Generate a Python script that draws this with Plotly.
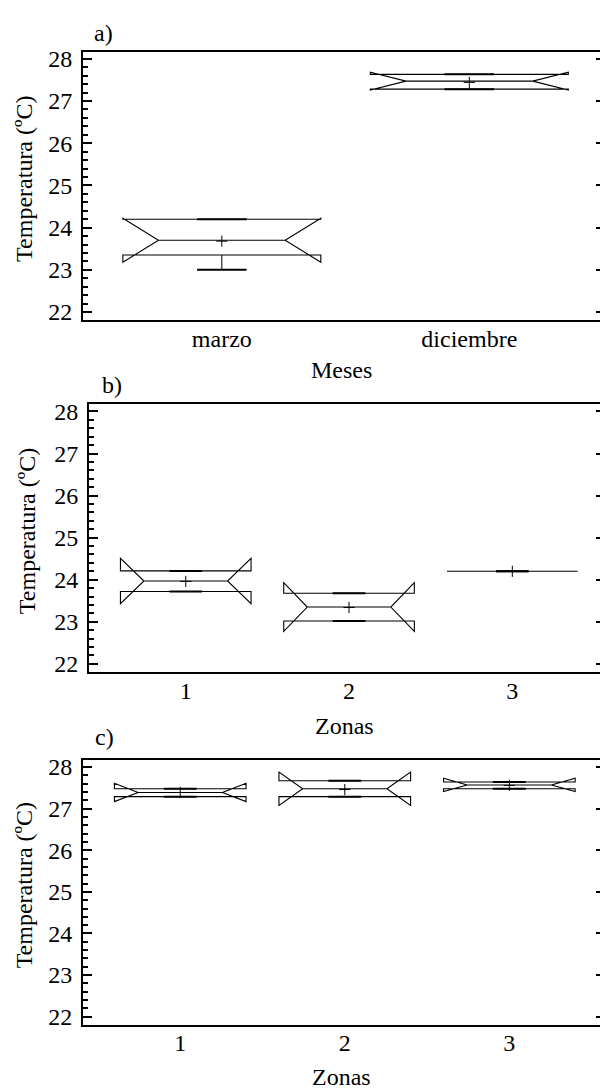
import plotly.graph_objects as go

# ---- data: temperature summaries (ºC) ----
meses = ["marzo", "diciembre"]
meses_q1 = [23.35, 27.28]
meses_med = [23.70, 27.47]
meses_q3 = [24.20, 27.63]
meses_low = [23.00, 27.28]
meses_high = [24.20, 27.63]
meses_mean = [23.68, 27.44]
meses_notch = [0.52, 0.21]

zonas_b = ["1", "2", "3"]
zb_q1 = [23.72, 23.02, 24.20]
zb_med = [23.97, 23.35, 24.20]
zb_q3 = [24.21, 23.68, 24.20]
zb_low = [23.72, 23.02, 24.20]
zb_high = [24.21, 23.68, 24.20]
zb_mean = [23.96, 23.34, 24.20]
zb_notch = [0.54, 0.58, 0.0]

zonas_c = ["1", "2", "3"]
zc_q1 = [27.29, 27.29, 27.48]
zc_med = [27.39, 27.48, 27.57]
zc_q3 = [27.48, 27.67, 27.64]
zc_low = [27.29, 27.29, 27.48]
zc_high = [27.48, 27.67, 27.64]
zc_mean = [27.39, 27.46, 27.56]
zc_notch = [0.22, 0.40, 0.16]

y_ticks = [22, 23, 24, 25, 26, 27, 28]
y_title = "Temperatura (ºC)"

# ---- layout geometry (pixels) ----
W, H = 600, 1092
FONT = "Liberation Serif, Times New Roman, DejaVu Serif, serif"
BOX_W = 0.8
WHISK = 0.25
NOTCH_W = 0.18
Y_RANGE = [21.81, 28.17]

panels = [
    dict(tag="a)", cats=meses, q1=meses_q1, med=meses_med, q3=meses_q3,
         low=meses_low, high=meses_high, mean=meses_mean, notch=meses_notch,
         xtitle="Meses", left=83, top=47, bottom=318, xr=[-0.561, 1.528],
         tag_xy=(92, 31), ytitle_x=24, xtitle_base=376),
    dict(tag="b)", cats=zonas_b, q1=zb_q1, med=zb_med, q3=zb_q3,
         low=zb_low, high=zb_high, mean=zb_mean, notch=zb_notch,
         xtitle="Zonas", left=89, top=403, bottom=673, xr=[-0.5925, 2.537],
         tag_xy=(100, 387), ytitle_x=27, xtitle_base=736),
    dict(tag="c)", cats=zonas_c, q1=zc_q1, med=zc_med, q3=zc_q3,
         low=zc_low, high=zc_high, mean=zc_mean, notch=zc_notch,
         xtitle="Zonas", left=83, top=762, bottom=1029, xr=[-0.591, 2.551],
         tag_xy=(93, 742), ytitle_x=24, xtitle_base=1090),
]

fig = go.Figure()
annotations = []
layout_axes = {}


def px_x(v):
    return v / W


def px_y(v):
    return 1 - v / H


for i, p in enumerate(panels):
    n = i + 1
    xa = "x" if n == 1 else f"x{n}"
    ya = "y" if n == 1 else f"y{n}"
    yr = f"y{n + 3}"
    pos = list(range(len(p["cats"])))

    # notched boxes (whiskers drawn separately below)
    fig.add_trace(go.Box(
        x=pos, q1=p["q1"], median=p["med"], q3=p["q3"],
        lowerfence=p["low"], upperfence=p["high"], notchspan=p["notch"],
        notched=True, notchwidth=NOTCH_W, width=BOX_W, showwhiskers=False,
        line=dict(color="black", width=1.1), fillcolor="rgba(255,255,255,0)",
        boxpoints=False, showlegend=False, hoverinfo="skip",
        xaxis=xa, yaxis=ya,
    ))

    # whisker stems and caps
    stem_x, stem_y, cap_x, cap_y = [], [], [], []
    half = BOX_W / 2 * WHISK
    for xp, lo, a, b, hi in zip(pos, p["low"], p["q1"], p["q3"], p["high"]):
        stem_x += [xp, xp, None, xp, xp, None]
        stem_y += [lo, a, None, b, hi, None]
        for v in (lo, hi):
            cap_x += [xp - half, xp + half, None]
            cap_y += [v, v, None]
    fig.add_trace(go.Scatter(
        x=stem_x, y=stem_y, mode="lines", line=dict(color="black", width=1),
        showlegend=False, hoverinfo="skip", xaxis=xa, yaxis=ya,
    ))
    fig.add_trace(go.Scatter(
        x=cap_x, y=cap_y, mode="lines", line=dict(color="black", width=2),
        showlegend=False, hoverinfo="skip", xaxis=xa, yaxis=ya,
    ))

    # mean markers (on the mirrored right-hand axis, same range)
    fig.add_trace(go.Scatter(
        x=pos, y=p["mean"], mode="markers",
        marker=dict(symbol="cross-thin", size=8,
                    line=dict(color="black", width=1)),
        showlegend=False, hoverinfo="skip", xaxis=xa, yaxis=yr,
    ))

    dom_x = [px_x(p["left"]), 1.0]
    dom_y = [px_y(p["bottom"]), px_y(p["top"])]

    layout_axes[xa.replace("x", "xaxis")] = dict(
        domain=dom_x, anchor=ya, range=p["xr"], tickmode="array",
        tickvals=pos, ticktext=p["cats"], ticks="", showgrid=False,
        zeroline=False, showline=True, mirror=True, linecolor="black",
        linewidth=2, tickfont=dict(family=FONT, size=24, color="black"),
        ticklabelstandoff=-4,
    )
    layout_axes[ya.replace("y", "yaxis")] = dict(
        domain=dom_y, anchor=xa, range=Y_RANGE, tickmode="array",
        tickvals=y_ticks, ticks="inside", ticklen=9, tickwidth=2,
        tickcolor="black", showgrid=False, zeroline=False, showline=True,
        linecolor="black", linewidth=2,
        tickfont=dict(family=FONT, size=24, color="black"),
        ticklabelstandoff=4,
        minor=dict(dtick=0.2, ticks="inside", ticklen=5, tickwidth=1.5,
                   tickcolor="black", showgrid=False),
    )
    layout_axes[f"yaxis{n + 3}"] = dict(
        overlaying=ya, side="right", anchor=xa, range=Y_RANGE,
        tickmode="array", tickvals=y_ticks, ticks="inside", ticklen=4,
        tickwidth=2, tickcolor="black", showticklabels=False,
        showgrid=False, zeroline=False, showline=False,
    )

    # panel tag
    annotations.append(dict(
        text=p["tag"], xref="paper", yref="paper",
        x=px_x(p["tag_xy"][0]), y=px_y(p["tag_xy"][1] - 3),
        xanchor="left", yanchor="middle", showarrow=False,
        font=dict(family=FONT, size=24, color="black"),
    ))
    # x-axis title
    annotations.append(dict(
        text=p["xtitle"], xref="paper", yref="paper",
        x=px_x((p["left"] + W) / 2), y=px_y(p["xtitle_base"] - 8),
        xanchor="center", yanchor="middle", showarrow=False,
        font=dict(family=FONT, size=24, color="black"),
    ))
    # y-axis title
    annotations.append(dict(
        text=y_title, xref="paper", yref="paper", textangle=-90,
        x=px_x(p["ytitle_x"]), y=px_y((p["top"] + p["bottom"]) / 2 - 7),
        xanchor="center", yanchor="middle", showarrow=False,
        font=dict(family=FONT, size=24, color="black"),
    ))

fig.update_layout(
    width=W, height=H, margin=dict(l=0, r=0, t=0, b=0),
    paper_bgcolor="white", plot_bgcolor="white",
    font=dict(family=FONT, size=24, color="black"),
    annotations=annotations, boxmode="overlay",
    **layout_axes,
)

fig.write_html("out.html")
